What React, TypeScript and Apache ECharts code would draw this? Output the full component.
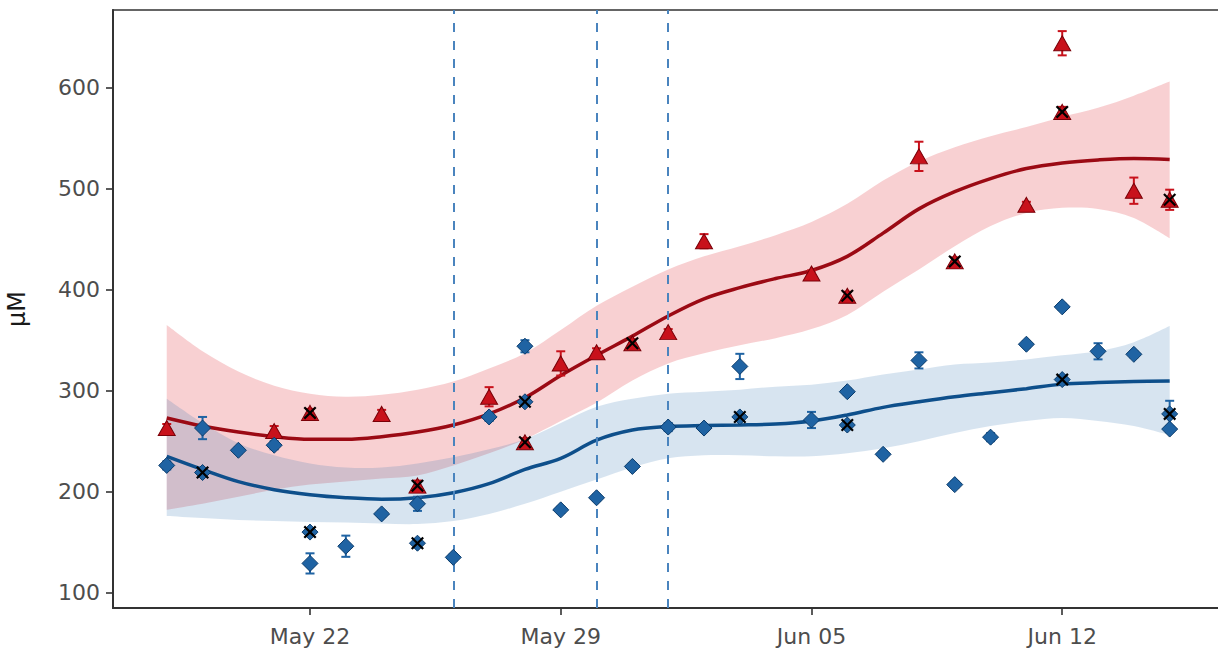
import React, { useEffect, useRef } from "react";
import * as echarts from "echarts";

// ---- data (day numbers: May 22 = 22, Jun 12 = 43) ----
const DAYS = [18, 19, 20, 21, 22, 23, 24, 25, 26, 27, 28, 29, 30, 31, 32, 33, 34, 35, 36, 37, 38, 39, 40, 41, 42, 43, 44, 45, 46];

const RED_FIT = [273, 265, 259, 254.5, 252, 252, 254.5, 259, 266, 277, 293, 315, 335, 354, 374, 391, 402, 411, 419, 433, 456, 480, 497, 510, 520, 525.5, 528.5, 530, 529];
const RED_HI = [365, 339, 319, 305, 297, 294, 296, 301, 309, 322, 337, 360, 384, 403, 420, 433, 443, 454, 467, 485, 508, 527, 541, 552, 561, 571, 580, 592, 606];
const RED_LO = [182, 188, 195, 202, 207, 210, 213, 216, 226, 238, 252, 270, 288, 310, 327, 337, 345, 352, 361, 375, 398, 420, 443, 463, 476, 481, 480, 471, 451];

const BLUE_FIT = [235, 222, 210, 202, 197, 194, 192.5, 194, 199, 208, 222, 233, 251, 261, 264.5, 265.5, 266, 267, 270, 276, 283.5, 289, 294, 298, 302, 306.5, 308, 309, 309.6];
const BLUE_HI = [292, 268, 248, 236, 228, 224, 224, 228, 234, 242, 252, 268, 284, 292, 297, 299, 301, 304, 306, 310, 316, 321, 326, 328, 331, 335, 339, 348, 364];
const BLUE_LO = [176, 174, 172, 171, 170, 169.5, 168.5, 168, 171, 178, 188, 200, 212, 224, 233, 236, 236, 235, 235, 238, 243, 250, 258, 265, 270, 273, 270, 265, 256];

// [day, value, error half-width]
const RED_POINTS = [
  [18, 263, 4], [21, 260, 5], [22, 278, 4], [24, 277, 4], [25, 206, 5], [27, 294, 9.5],
  [28, 249, 4], [29, 327, 12], [30, 338, 4], [31, 347, 4], [32, 358, 3], [33, 448, 7],
  [36, 416, 3], [37, 394, 4], [39, 532, 14.5], [40, 428, 4], [42, 484, 3], [43, 644, 12],
  [43, 576, 5], [45, 498, 13], [46, 489, 10],
];
const BLUE_POINTS = [
  [18, 226, 4], [19, 263, 11], [19, 219, 4], [20, 241, 3], [21, 246, 4], [22, 160, 4],
  [22, 129, 10], [23, 146, 10.5], [24, 178, 3], [25, 188, 7], [25, 149, 4], [26, 135, 3],
  [27, 274, 4], [28, 344, 6], [28, 289, 4], [29, 182, 3], [30, 194, 3], [31, 225, 3],
  [32, 264, 4], [33, 263, 3], [34, 324, 12.5], [34, 274, 4], [36, 271, 8], [37, 299, 3],
  [37, 266, 4], [38, 237, 3], [39, 330, 8], [40, 207, 3], [41, 254, 4], [42, 346, 3],
  [43, 383, 3], [43, 311, 4], [44, 339, 8], [45, 336, 3], [46, 277, 13], [46, 262, 3],
];
const RED_FLAGGED = [[22, 278], [25, 206], [28, 249], [31, 347], [37, 394], [40, 428], [43, 576], [46, 489]];
const BLUE_FLAGGED = [[19, 219], [22, 160], [25, 149], [28, 289], [34, 274], [37, 266], [43, 311], [46, 277]];

const EVENT_DAYS = [26, 30, 32];
const X_TICKS = [22, 29, 36, 43];
const X_TICK_LABELS = ["May 22", "May 29", "Jun 05", "Jun 12"];
const Y_TICKS = [100, 200, 300, 400, 500, 600];

const RED_LINE = "#9b0a14";
const RED_PT = "#c8111b";
const RED_PT_EDGE = "#7a0008";
const RED_BAND = "rgba(225, 40, 50, 0.22)";
const BLUE_LINE = "#0e4f8b";
const BLUE_PT = "#1f63a3";
const BLUE_PT_EDGE = "#0a3b6b";
const BLUE_BAND = "rgba(40, 110, 175, 0.19)";
const EVENT_COLOR = "#4a84be";

const X_SYMBOL = "path://M0,1.2L1.2,0L5,3.8L8.8,0L10,1.2L6.2,5L10,8.8L8.8,10L5,6.2L1.2,10L0,8.8L3.8,5Z";

function smoothPath(pts: number[][]): string {
  let d = "";
  for (let i = 0; i < pts.length - 1; i++) {
    const p0 = pts[i - 1] || pts[i];
    const p1 = pts[i];
    const p2 = pts[i + 1];
    const p3 = pts[i + 2] || p2;
    const t = 1 / 6;
    const c1x = p1[0] + (p2[0] - p0[0]) * t;
    const c1y = p1[1] + (p2[1] - p0[1]) * t;
    const c2x = p2[0] - (p3[0] - p1[0]) * t;
    const c2y = p2[1] - (p3[1] - p1[1]) * t;
    d += ` C${c1x},${c1y} ${c2x},${c2y} ${p2[0]},${p2[1]}`;
  }
  return d;
}

function bandSeries(hi: number[], lo: number[], fill: string, z: number) {
  return {
    type: "custom",
    z,
    silent: true,
    clip: true,
    data: [[DAYS[0], hi[0]]],
    encode: { x: 0, y: 1 },
    renderItem: (_params: any, api: any) => {
      const up = DAYS.map((d, i) => api.coord([d, hi[i]]));
      const dn = DAYS.map((d, i) => api.coord([d, lo[i]])).reverse();
      const d =
        `M${up[0][0]},${up[0][1]}` +
        smoothPath(up) +
        ` L${dn[0][0]},${dn[0][1]}` +
        smoothPath(dn) +
        " Z";
      return { type: "path", shape: { pathData: d }, style: { fill, stroke: "none" } };
    },
  };
}

function errorSeries(points: number[][], color: string, z: number) {
  return {
    type: "custom",
    z,
    silent: true,
    data: points,
    encode: { x: 0, y: 1 },
    renderItem: (_params: any, api: any) => {
      const x = api.value(0);
      const v = api.value(1);
      const e = api.value(2);
      const top = api.coord([x, v + e]);
      const bot = api.coord([x, v - e]);
      const hw = 4.5;
      const st = { stroke: color, lineWidth: 2 };
      return {
        type: "group",
        children: [
          { type: "line", shape: { x1: top[0], y1: top[1], x2: bot[0], y2: bot[1] }, style: st },
          { type: "line", shape: { x1: top[0] - hw, y1: top[1], x2: top[0] + hw, y2: top[1] }, style: st },
          { type: "line", shape: { x1: bot[0] - hw, y1: bot[1], x2: bot[0] + hw, y2: bot[1] }, style: st },
        ],
      };
    },
  };
}

export default function App() {
  const ref = useRef<HTMLDivElement>(null);
  useEffect(() => {
    if (!ref.current) return;
    const chart = echarts.init(ref.current, null, { renderer: "svg" });
    const font = "'DejaVu Sans', Verdana, sans-serif";
    chart.setOption({
      animation: false,
      backgroundColor: "#ffffff",
      grid: {
        left: 113, top: 10, width: 1107, height: 598,
        outerBoundsMode: "none", containLabel: false,
        show: true, borderColor: "#333333", borderWidth: 1.6, backgroundColor: "transparent",
      },
      xAxis: {
        type: "value",
        min: 16.5,
        max: 47.405,
        splitLine: { show: false },
        axisLine: { show: true, lineStyle: { color: "#333333", width: 1.8 } },
        axisTick: { show: true, length: 7, lineStyle: { color: "#333333", width: 1.6 }, customValues: X_TICKS },
        axisLabel: {
          customValues: X_TICKS,
          margin: 17,
          color: "#4d4d4d",
          fontSize: 22,
          fontFamily: font,
          formatter: (v: number) => X_TICK_LABELS[X_TICKS.indexOf(Math.round(v))] ?? "",
        },
      },
      yAxis: {
        type: "value",
        min: 84.85,
        max: 676.9,
        name: "\u03bcM",
        nameLocation: "middle",
        nameGap: 84,
        nameRotate: 90,
        nameTextStyle: { color: "#1a1a1a", fontSize: 24, fontFamily: font },
        splitLine: { show: false },
        axisLine: { show: true, lineStyle: { color: "#333333", width: 2 } },
        axisTick: { show: true, length: 7, lineStyle: { color: "#333333", width: 1.6 }, customValues: Y_TICKS },
        axisLabel: { customValues: Y_TICKS, margin: 13, color: "#4d4d4d", fontSize: 22, fontFamily: font },
      },
      series: [
        bandSeries(RED_HI, RED_LO, RED_BAND, 1),
        bandSeries(BLUE_HI, BLUE_LO, BLUE_BAND, 2),
        {
          type: "line",
          z: 3,
          data: [],
          markLine: {
            silent: true,
            symbol: "none",
            label: { show: false },
            lineStyle: { color: EVENT_COLOR, type: [9, 9], width: 2 },
            data: EVENT_DAYS.map((d) => ({ xAxis: d })),
          },
        },
        {
          type: "line",
          z: 4,
          data: DAYS.map((d, i) => [d, RED_FIT[i]]),
          smooth: 0.35,
          showSymbol: false,
          lineStyle: { color: RED_LINE, width: 3.5 },
        },
        {
          type: "line",
          z: 4,
          data: DAYS.map((d, i) => [d, BLUE_FIT[i]]),
          smooth: 0.35,
          showSymbol: false,
          lineStyle: { color: BLUE_LINE, width: 3.5 },
        },
        errorSeries(RED_POINTS, RED_PT, 5),
        errorSeries(BLUE_POINTS, BLUE_PT, 5),
        {
          type: "scatter",
          z: 6,
          data: RED_POINTS.map((p) => [p[0], p[1]]),
          symbol: "triangle",
          symbolSize: [17, 15],
          itemStyle: { color: RED_PT, borderColor: RED_PT_EDGE, borderWidth: 1, opacity: 1 },
        },
        {
          type: "scatter",
          z: 6,
          data: BLUE_POINTS.map((p) => [p[0], p[1]]),
          symbol: "diamond",
          symbolSize: [16, 16],
          itemStyle: { color: BLUE_PT, borderColor: BLUE_PT_EDGE, borderWidth: 1, opacity: 1 },
        },
        {
          type: "scatter",
          z: 7,
          data: [...RED_FLAGGED, ...BLUE_FLAGGED],
          symbol: X_SYMBOL,
          symbolSize: 13,
          itemStyle: { color: "#000000", opacity: 1 },
        },
      ],
    });
    return () => chart.dispose();
  }, []);
  return <div ref={ref} style={{ position: "fixed", left: 0, top: 0, width: 1218, height: 650 }} />;
}
